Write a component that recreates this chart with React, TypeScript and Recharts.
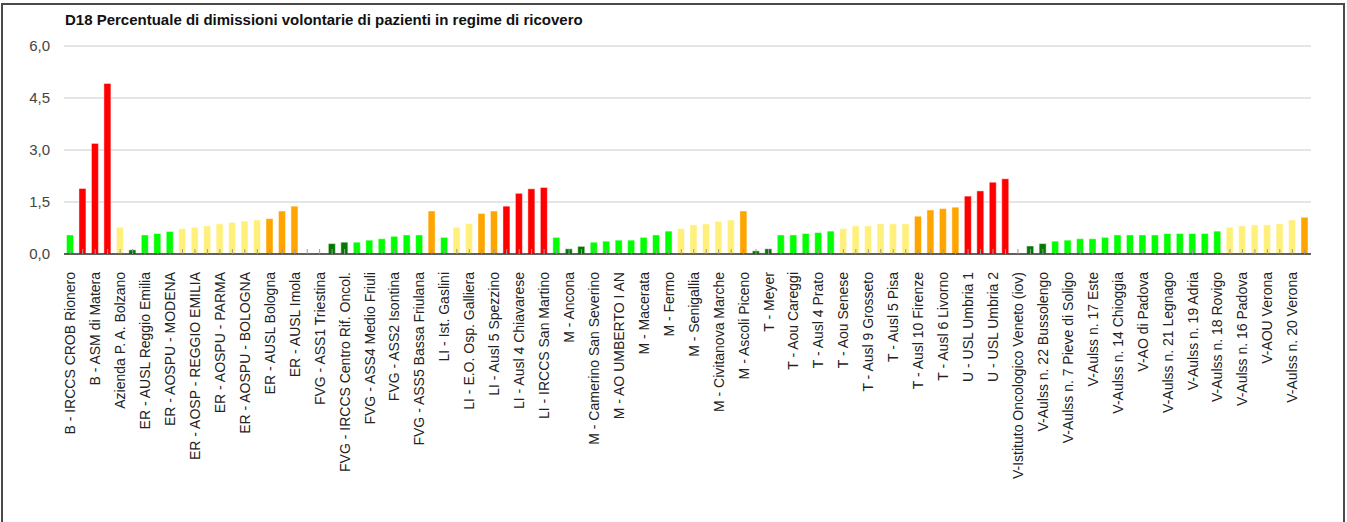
import React from 'react';
import { BarChart, Bar, XAxis, YAxis, CartesianGrid, Cell } from 'recharts';

const title = 'D18 Percentuale di dimissioni volontarie di pazienti in regime di ricovero';

// Labels shown on the axis (every other bar carries a label)
const shownLabels: string[] = [
  'B - IRCCS CROB Rionero',
  'B - ASM di Matera',
  'Azienda P. A. Bolzano',
  'ER - AUSL Reggio Emilia',
  'ER - AOSPU - MODENA',
  'ER - AOSP - REGGIO EMILIA',
  'ER - AOSPU - PARMA',
  'ER - AOSPU - BOLOGNA',
  'ER - AUSL Bologna',
  'ER - AUSL Imola',
  'FVG - ASS1 Triestina',
  'FVG - IRCCS Centro Rif. Oncol.',
  'FVG - ASS4 Medio Friuli',
  'FVG - ASS2 Isontina',
  'FVG - ASS5 Bassa Friulana',
  'LI - Ist. Gaslini',
  'LI - E.O. Osp. Galliera',
  'LI - Ausl 5 Spezzino',
  'LI - Ausl 4 Chiavarese',
  'LI - IRCCS San Martino',
  'M - Ancona',
  'M - Camerino San Severino',
  'M - AO UMBERTO I AN',
  'M - Macerata',
  'M - Fermo',
  'M - Senigallia',
  'M - Civitanova Marche',
  'M - Ascoli Piceno',
  'T - Meyer',
  'T - Aou Careggi',
  'T - Ausl 4 Prato',
  'T - Aou Senese',
  'T - Ausl 9 Grosseto',
  'T - Ausl 5 Pisa',
  'T - Ausl 10 Firenze',
  'T - Ausl 6 Livorno',
  'U - USL Umbria 1',
  'U - USL Umbria 2',
  'V-Istituto Oncologico Veneto (iov)',
  'V-Aulss n. 22 Bussolengo',
  'V-Aulss n. 7 Pieve di Soligo',
  'V-Aulss n. 17 Este',
  'V-Aulss n. 14 Chioggia',
  'V-AO di Padova',
  'V-Aulss n. 21 Legnago',
  'V-Aulss n. 19 Adria',
  'V-Aulss n. 18 Rovigo',
  'V-Aulss n. 16 Padova',
  'V-AOU Verona',
  'V-Aulss n. 20 Verona',
];

const values: number[] = [
  0.55, 1.89, 3.19, 4.92, 0.77, 0.12, 0.55, 0.59, 0.65, 0.73,
  0.77, 0.81, 0.87, 0.91, 0.95, 0.98, 1.02, 1.24, 1.38, 0.0,
  0.02, 0.30, 0.34, 0.34, 0.40, 0.44, 0.51, 0.55, 0.55, 1.24,
  0.48, 0.77, 0.88, 1.17, 1.24, 1.38, 1.75, 1.88, 1.92, 0.48,
  0.15, 0.22, 0.34, 0.37, 0.40, 0.40, 0.48, 0.55, 0.66, 0.73,
  0.84, 0.87, 0.94, 0.98, 1.24, 0.09, 0.15, 0.55, 0.55, 0.59,
  0.62, 0.66, 0.73, 0.81, 0.81, 0.87, 0.87, 0.87, 1.09, 1.27,
  1.31, 1.35, 1.67, 1.82, 2.07, 2.17, 0.0, 0.23, 0.30, 0.37,
  0.40, 0.44, 0.44, 0.48, 0.55, 0.55, 0.55, 0.55, 0.59, 0.59,
  0.59, 0.59, 0.66, 0.77, 0.81, 0.84, 0.84, 0.87, 0.98, 1.06,
];

// D = dark green, G = green, Y = yellow, O = orange, R = red
const levels: string[] = [
  'G', 'R', 'R', 'R', 'Y', 'D', 'G', 'G', 'G', 'Y',
  'Y', 'Y', 'Y', 'Y', 'Y', 'Y', 'O', 'O', 'O', 'D',
  'D', 'D', 'D', 'G', 'G', 'G', 'G', 'G', 'G', 'O',
  'G', 'Y', 'Y', 'O', 'O', 'R', 'R', 'R', 'R', 'G',
  'D', 'D', 'G', 'G', 'G', 'G', 'G', 'G', 'G', 'Y',
  'Y', 'Y', 'Y', 'Y', 'O', 'D', 'D', 'G', 'G', 'G',
  'G', 'G', 'Y', 'Y', 'Y', 'Y', 'Y', 'Y', 'O', 'O',
  'O', 'O', 'R', 'R', 'R', 'R', 'D', 'D', 'D', 'G',
  'G', 'G', 'G', 'G', 'G', 'G', 'G', 'G', 'G', 'G',
  'G', 'G', 'G', 'Y', 'Y', 'Y', 'Y', 'Y', 'Y', 'O',
];

const yTicks: number[] = [0, 1.5, 3, 4.5, 6];

const levelColors: Record<string, string> = {
  D: '#007a00',
  G: '#00ff00',
  Y: '#fff07c',
  O: '#ffa500',
  R: '#ff0000',
};

const data = values.map((v, i) => ({
  idx: i,
  label: i % 2 === 0 ? shownLabels[i / 2] : '',
  value: v,
  level: levels[i],
}));

const FONT = '"Liberation Sans", Arial, Helvetica, sans-serif';

const XTick = (props: any) => {
  const { x, y, payload } = props;
  const i = Number(payload.value);
  const label = i % 2 === 0 ? shownLabels[i / 2] : '';
  const tx = x + 5;
  const ty = y + 18;
  return (
    <g>
      <line x1={x} x2={x} y1={y - 5} y2={y} stroke="#9a9a9a" strokeWidth={1} />
      {label ? (
        <text
          x={tx}
          y={ty}
          transform={`rotate(-90, ${tx}, ${ty})`}
          textAnchor="end"
          fontSize={14}
          fontFamily={FONT}
          fill="#222"
        >
          {label}
        </text>
      ) : null}
    </g>
  );
};

const fmt = (v: number) => v.toFixed(1).replace('.', ',');

export default function App() {
  return (
    <div
      style={{
        position: 'absolute',
        left: 0,
        top: 0,
        width: 1347,
        height: 522,
        overflow: 'hidden',
        background: '#fff',
        fontFamily: FONT,
      }}
    >
      <div
        style={{
          position: 'absolute',
          left: 1,
          top: 3,
          width: 1344,
          height: 560,
          boxSizing: 'border-box',
          border: '2px solid #4a4a4a',
        }}
      />
      <div
        style={{
          position: 'absolute',
          left: 65,
          top: 12,
          fontSize: 15,
          lineHeight: '16px',
          fontWeight: 'bold',
          color: '#111',
          whiteSpace: 'nowrap',
          fontFamily: FONT,
        }}
      >
        {title}
      </div>
      <div style={{ position: 'absolute', left: 0, top: 0 }}>
        <BarChart
          width={1347}
          height={522}
          data={data}
          margin={{ top: 46, right: 36, bottom: 0, left: 0 }}
          barCategoryGap="20%"
        >
          <CartesianGrid vertical={false} stroke="#dcdcdc" strokeWidth={1.5} />
          <YAxis
            type="number"
            domain={[0, 6]}
            ticks={yTicks}
            tickFormatter={fmt}
            width={64}
            axisLine={false}
            tickLine={false}
            tickSize={0}
            tickMargin={14}
            tick={{ fontSize: 15, fill: '#444', fontFamily: FONT }}
          />
          <Bar
            dataKey="value"
            isAnimationActive={false}
            stroke="rgba(255,255,255,0.45)"
            strokeWidth={1}
          >
            {data.map((d) => (
              <Cell key={d.idx} fill={levelColors[d.level]} />
            ))}
          </Bar>
          <XAxis
            dataKey="idx"
            type="category"
            interval={0}
            height={268}
            tickLine={false}
            tickSize={0}
            tickMargin={0}
            axisLine={{ stroke: '#333', strokeWidth: 1.5 }}
            tick={<XTick />}
          />
        </BarChart>
      </div>
    </div>
  );
}
